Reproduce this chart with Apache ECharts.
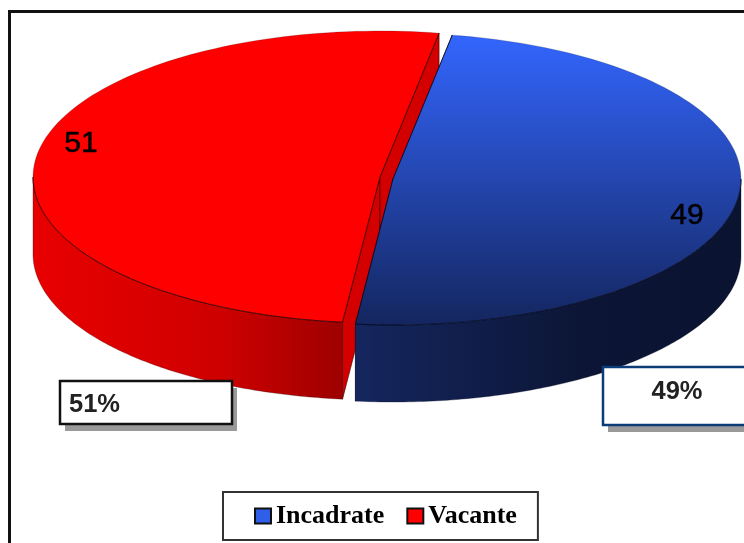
<!DOCTYPE html>
<html><head><meta charset="utf-8">
<style>html,body{margin:0;padding:0;background:#fff;overflow:hidden}#c{width:744px;height:543px}</style>
<script src="https://cdn.jsdelivr.net/npm/echarts@6/dist/echarts.min.js"></script>
</head><body><div id="c"></div>
<script>
const categories = ['Incadrate', 'Vacante'];
const shares = [49, 51];
const startAngleDeg = 9.8;

const layouts = [
  { cx: 393, cy: 179, rx: 348, ry: 146, depth: 77,
    top: ['#3366ff', '#14265f'], side: ['#15265f', '#0c1535', '#0a1330'], cut: '#15265f', stroke: '#050a20',
    swatch: '#2f5fe8',
    inner: [687, 216], box: [603, 367, 160, 58], boxBorder: '#0b3c78', shadow: [5, 7], boxText: [677, 392], boxAlign: 'center' },
  { cx: 380, cy: 177, rx: 347, ry: 146, depth: 77,
    top: ['#ff0000', '#ff0000'], side: ['#e80000', '#cf0000', '#9e0000'], cut: '#d40000', stroke: '#300000',
    swatch: '#ff0000',
    inner: [81, 144], box: [60, 381, 172, 43], boxBorder: '#111111', shadow: [5, 7], boxText: [69, 405], boxAlign: 'left' }
];

const total = shares.reduce((a, b) => a + b, 0);
const G = () => echarts.graphic;

function arcPoints(l, a0, a1, dy) {
  const pts = [], n = 120;
  for (let i = 0; i <= n; i++) {
    const t = a0 + (a1 - a0) * i / n;
    pts.push([l.cx + l.rx * Math.sin(t), l.cy + dy - l.ry * Math.cos(t)]);
  }
  return pts;
}

function makeRender(idx) {
  return function (params, api) {
    const l = layouts[idx];
    const value = api.value(0);
    let before = 0;
    for (let i = 0; i < idx; i++) before += shares[i];
    const rad = d => d * Math.PI / 180;
    const a0 = rad(startAngleDeg + before / total * 360);
    const a1 = a0 + value / total * 2 * Math.PI;
    const topArc = arcPoints(l, a0, a1, 0);
    const first = topArc[0], last = topArc[topArc.length - 1];
    const down = p => [p[0], p[1] + l.depth];
    const apex = [l.cx, l.cy];
    const children = [];
    const poly = (points, fill, lw) => children.push({
      type: 'polygon', shape: { points },
      style: { fill, stroke: l.stroke, lineWidth: lw === undefined ? 0.6 : lw }
    });
    const line = (points, lw) => children.push({
      type: 'polyline', shape: { points },
      style: { fill: null, stroke: l.stroke, lineWidth: lw }
    });

    // cut faces
    poly([first, down(first), down(apex), apex], l.cut);
    poly([apex, down(apex), down(last), last], l.cut);

    // outer wall: only the front half of the ellipse shows
    const halfA = Math.max(a0, Math.PI / 2), halfB = Math.min(a1, 3 * Math.PI / 2);
    const wallTop = arcPoints(l, halfA, halfB, 0);
    const wallBottom = arcPoints(l, halfB, halfA, l.depth);
    const xs = wallTop.map(p => p[0]);
    const minX = Math.min.apply(null, xs), maxX = Math.max.apply(null, xs);
    const sideFill = new (G().LinearGradient)(minX, 0, maxX, 0, [
      { offset: 0, color: l.side[0] },
      { offset: 0.6, color: l.side[1] },
      { offset: 1, color: l.side[2] }
    ], true);
    poly(wallTop.concat(wallBottom), sideFill, 0.3);

    // top face
    const topFill = new (G().LinearGradient)(0, l.cy - l.ry, 0, l.cy + l.ry, [
      { offset: 0, color: l.top[0] }, { offset: 1, color: l.top[1] }
    ], true);
    poly([apex].concat(topArc), topFill, 0.2);
    line([first, apex, last], 0.7);
    line(wallTop, 0.8);

    // number on the slice
    children.push({
      type: 'text', x: l.inner[0], y: l.inner[1],
      style: { text: String(value), fill: '#000', stroke: '#000', lineWidth: 0.5, font: '30px "Liberation Sans"', align: 'center', verticalAlign: 'middle' }
    });
    // callout box
    const b = l.box;
    children.push({ type: 'rect', shape: { x: b[0] + l.shadow[0], y: b[1] + l.shadow[1], width: b[2], height: b[3] }, style: { fill: '#999999' } });
    children.push({ type: 'rect', shape: { x: b[0], y: b[1], width: b[2], height: b[3] }, style: { fill: '#ffffff', stroke: l.boxBorder, lineWidth: 2.5 } });
    children.push({
      type: 'text', x: l.boxText[0], y: l.boxText[1],
      style: { text: value + '%', fill: '#222', font: 'bold 25.5px "Liberation Sans"', align: l.boxAlign, verticalAlign: 'middle' }
    });
    return { type: 'group', children };
  };
}

const chart = echarts.init(document.getElementById('c'), null, { renderer: 'canvas', width: 744, height: 543 });
chart.setOption({
  animation: false,
  backgroundColor: '#ffffff',
  graphic: [{
    type: 'polyline', z: 0, silent: true,
    shape: { points: [[9.5, 543], [9.5, 11.5], [744, 11.5]] },
    style: { stroke: '#111111', lineWidth: 3, fill: null }
  }],
  legend: {
    left: 223, top: 492, orient: 'horizontal',
    data: categories.map(name => ({ name, icon: 'rect' })),
    itemWidth: 16, itemHeight: 15, itemGap: 22,
    padding: [11, 21, 11, 31],
    backgroundColor: '#ffffff', borderColor: '#333333', borderWidth: 2,
    selectedMode: false,
    textStyle: { fontFamily: 'Liberation Serif', fontWeight: 'bold', fontSize: 26, color: '#000' },
    itemStyle: { borderColor: '#111', borderWidth: 2 }
  },
  // Red is painted first: the blue slice sits in front of its cut faces.
  series: [1, 0].map(i => ({
    type: 'custom',
    name: categories[i],
    coordinateSystem: 'none',
    z: i === 0 ? 3 : 2,
    silent: true,
    data: [[shares[i]]],
    encode: { value: 0 },
    itemStyle: { color: layouts[i].swatch },
    renderItem: makeRender(i)
  }))
});
</script></body></html>
